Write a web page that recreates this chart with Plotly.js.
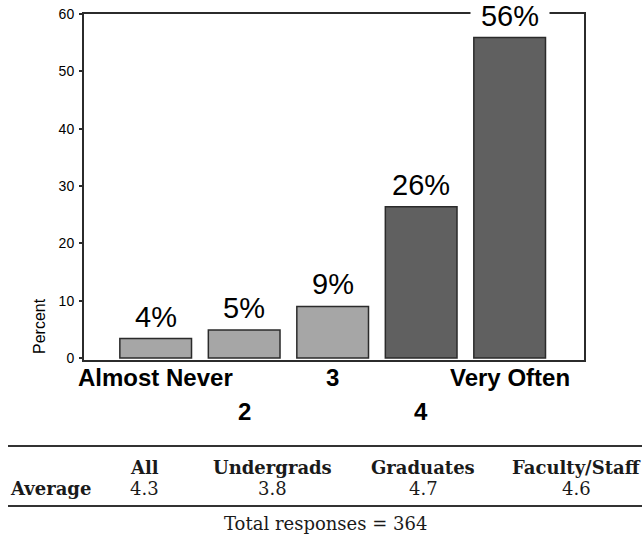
<!DOCTYPE html>
<html>
<head>
<meta charset="utf-8">
<script src="https://cdn.plot.ly/plotly-3.0.1.min.js"></script>
<style>
  html, body { margin: 0; padding: 0; background: #ffffff; }
  #chart { width: 642px; height: 539px; }
</style>
</head>
<body>
<div id="chart"></div>
<script>
// ---- data ----
var categories = ["Almost Never", "2", "3", "4", "Very Often"];
var percents = [3.4, 4.9, 9.0, 26.4, 55.9];
var percentLabels = ["4%", "5%", "9%", "26%", "56%"];
var yTicks = [0, 10, 20, 30, 40, 50, 60];
var groups = ["All", "Undergrads", "Graduates", "Faculty/Staff"];
var averages = ["4.3", "3.8", "4.7", "4.6"];
var rowLabel = "Average";
var totalResponses = 364;

// ---- layout helpers (pixel -> paper) ----
var W = 642, H = 539;
var M = {l: 84, r: 58, t: 14, b: 179};
var PW = W - M.l - M.r, PH = H - M.t - M.b;
function px(x) { return (x - M.l) / PW; }
function py(y) { return (H - M.b - y) / PH; }

var idx = categories.map(function (c, i) { return i; });
var barColors = idx.map(function (i) { return i < 3 ? "#a6a6a6" : "#606060"; });

var trace = {
  type: "bar",
  x: idx,
  y: percents,
  marker: { color: barColors, line: { color: "#2b2b2b", width: 1.5 } },
  hoverinfo: "skip"
};

var annotations = [];
// value labels
percentLabels.forEach(function (t, i) {
  var last = i === percentLabels.length - 1;
  var a = {
    x: i, y: percents[i], xref: "x", yref: "y",
    text: t, showarrow: false, xanchor: "center", yanchor: "bottom",
    yshift: 3, borderpad: 2,
    bgcolor: last ? "#ffffff" : "rgba(0,0,0,0)",
    font: { family: "Liberation Sans, Arial, sans-serif", size: 29, color: "#000" }
  };
  if (last) { a.width = 74; }
  annotations.push(a);
});
// staggered category labels
categories.forEach(function (c, i) {
  annotations.push({
    x: i, y: 0, xref: "x", yref: "paper",
    text: "<b>" + c + "</b>", showarrow: false,
    xanchor: "center", yanchor: "middle",
    yshift: i % 2 === 0 ? -17 : -51,
    font: { family: "Liberation Sans, Arial, sans-serif", size: 24, color: "#000" }
  });
});
// y axis title
annotations.push({
  x: px(39), y: py(326), xref: "paper", yref: "paper",
  text: "Percent", textangle: -90, showarrow: false,
  xanchor: "center", yanchor: "middle",
  font: { family: "Liberation Sans, Arial, sans-serif", size: 16, color: "#000" }
});

// table
var serif = "DejaVu Serif, Liberation Serif, serif";
var colX = [144, 272, 423, 576];
groups.forEach(function (g, i) {
  annotations.push({
    x: px(colX[i]), y: py(467), xref: "paper", yref: "paper",
    text: "<b>" + g + "</b>", showarrow: false, xanchor: "center", yanchor: "middle",
    font: { family: serif, size: 18, color: "#1a1a1a" }
  });
  annotations.push({
    x: px(colX[i]), y: py(488), xref: "paper", yref: "paper",
    text: averages[i], showarrow: false, xanchor: "center", yanchor: "middle",
    font: { family: serif, size: 18, color: "#1a1a1a" }
  });
});
annotations.push({
  x: px(8), y: py(488), xref: "paper", yref: "paper",
  text: "<b>" + rowLabel + "</b>", showarrow: false, xanchor: "left", yanchor: "middle",
  font: { family: serif, size: 18, color: "#1a1a1a" }
});
annotations.push({
  x: px(325), y: py(523), xref: "paper", yref: "paper",
  text: "Total responses = " + totalResponses, showarrow: false,
  xanchor: "center", yanchor: "middle",
  font: { family: serif, size: 18, color: "#1a1a1a" }
});

var shapes = [446, 506].map(function (yy) {
  return {
    type: "line", xref: "paper", yref: "paper",
    x0: px(8), x1: px(642), y0: py(yy), y1: py(yy),
    line: { color: "#333", width: 2 }
  };
});

var layout = {
  width: W, height: H,
  margin: M,
  paper_bgcolor: "#ffffff",
  plot_bgcolor: "#ffffff",
  showlegend: false,
  bargap: 0.19,
  xaxis: {
    range: [-0.81, 4.84],
    showgrid: false, zeroline: false,
    showline: true, mirror: true, linecolor: "#2b2b2b", linewidth: 2,
    showticklabels: false, ticks: "", fixedrange: true
  },
  yaxis: {
    range: [-0.35, 60],
    tickvals: yTicks,
    ticktext: yTicks.map(String),
    ticks: "outside", ticklen: 3, tickwidth: 2, tickcolor: "#2b2b2b",
    showgrid: false, zeroline: false,
    showline: true, mirror: true, linecolor: "#2b2b2b", linewidth: 2,
    tickfont: { family: "Liberation Sans, Arial, sans-serif", size: 14, color: "#000" },
    ticklabelstandoff: 2,
    fixedrange: true
  },
  annotations: annotations,
  shapes: shapes
};

Plotly.newPlot("chart", [trace], layout, { displayModeBar: false, staticPlot: true });
</script>
</body>
</html>
